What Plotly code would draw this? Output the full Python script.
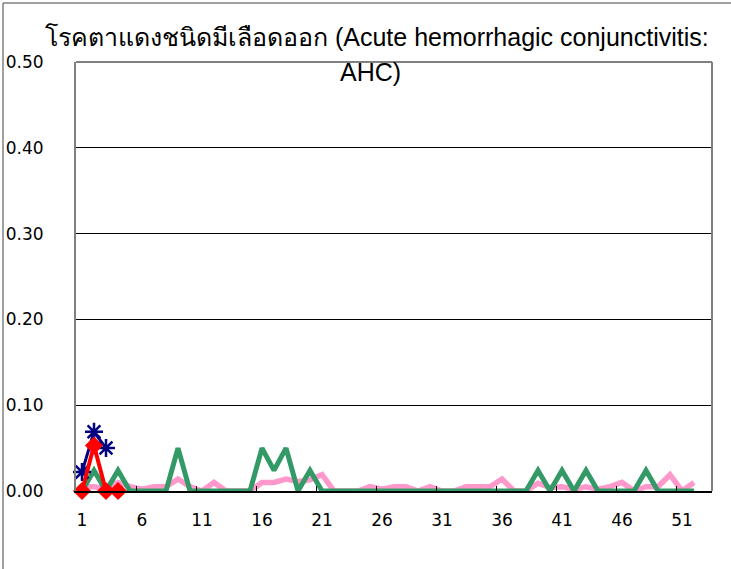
import plotly.graph_objects as go

weeks = list(range(1, 53))

# Series
blue_weeks = [1, 2, 3]
blue_vals = [0.022, 0.069, 0.050]

red_weeks = [1, 2, 3, 4]
red_vals = [0.0, 0.053, 0.0, 0.0]

pink_vals = [0.005, 0.005, 0.003, 0.010, 0.005, 0.002, 0.005, 0.005, 0.014, 0.005,
             0.000, 0.010, 0.000, 0.000, 0.000, 0.010, 0.010, 0.014, 0.011, 0.013,
             0.019, 0.000, 0.000, 0.000, 0.005, 0.002, 0.005, 0.005, 0.000, 0.005,
             0.000, 0.000, 0.005, 0.005, 0.005, 0.014, 0.000, 0.000, 0.009, 0.004,
             0.005, 0.002, 0.005, 0.002, 0.005, 0.010, 0.000, 0.005, 0.005, 0.019,
             0.000, 0.010]

green_vals = [0.000, 0.024, 0.000, 0.024, 0.000, 0.000, 0.000, 0.000, 0.050, 0.000,
              0.000, 0.000, 0.000, 0.000, 0.000, 0.050, 0.024, 0.050, 0.000, 0.024,
              0.000, 0.000, 0.000, 0.000, 0.000, 0.000, 0.000, 0.000, 0.000, 0.000,
              0.000, 0.000, 0.000, 0.000, 0.000, 0.000, 0.000, 0.000, 0.024, 0.000,
              0.024, 0.000, 0.024, 0.000, 0.000, 0.000, 0.000, 0.024, 0.000, 0.000,
              0.000, 0.000]

x_tick_vals = [1, 6, 11, 16, 21, 26, 31, 36, 41, 46, 51]
x_tick_text = [str(v) for v in x_tick_vals]
x_minor_vals = [5.5, 10.5, 15.5, 20.5, 25.5, 30.5, 35.5, 40.5, 45.5, 50.5]
y_tick_vals = [0.0, 0.1, 0.2, 0.3, 0.4, 0.5]
y_tick_text = ["0.00", "0.10", "0.20", "0.30", "0.40", "0.50"]

title_line1 = "โรคตาแดงชนิดมีเลือดออก (Acute hemorrhagic conjunctivitis:"
title_line2 = "AHC)"

W, H = 731, 569
L, R, T, B = 76, 712, 62, 491

def px_x(p):
    return (p - L) / (R - L)

def px_y(p):
    return (B - p) / (B - T)

fig = go.Figure()
fig.add_trace(go.Scatter(x=weeks, y=pink_vals, mode="lines",
                         line=dict(color="#FF99CC", width=5.5), showlegend=False))
fig.add_trace(go.Scatter(x=weeks, y=green_vals, mode="lines",
                         line=dict(color="#339966", width=5), showlegend=False))
fig.add_trace(go.Scatter(x=blue_weeks, y=blue_vals, mode="lines+markers",
                         line=dict(color="#000080", width=3), cliponaxis=False,
                         marker=dict(symbol="asterisk-open", size=15,
                                     line=dict(color="#000080", width=2.5)),
                         showlegend=False))
fig.add_trace(go.Scatter(x=red_weeks, y=red_vals, mode="lines+markers",
                         line=dict(color="#FF0000", width=4), cliponaxis=False,
                         marker=dict(symbol="diamond", size=14, color="#FF0000",
                                     line=dict(width=0)),
                         showlegend=False))

font_ticks = "'DejaVu Sans', sans-serif"

fig.update_layout(
    width=W, height=H,
    margin=dict(l=L, r=W - R, t=T, b=H - B, pad=0),
    paper_bgcolor="white", plot_bgcolor="white",
    xaxis=dict(range=[0.5, 53.5], tickmode="array", tickvals=x_tick_vals,
               ticktext=x_tick_text, ticks="", showgrid=False, zeroline=False,
               showline=True, linecolor="black", linewidth=1.5, automargin=False,
               ticklabelstandoff=13,
               tickfont=dict(family=font_ticks, size=17, color="black"),
               minor=dict(tickmode="array", tickvals=x_minor_vals, ticks="inside",
                          ticklen=5, tickcolor="black", tickwidth=1, showgrid=False)),
    yaxis=dict(range=[0, 0.5], tickmode="array", tickvals=y_tick_vals,
               ticktext=y_tick_text, ticks="", showgrid=True, gridcolor="black",
               gridwidth=1, zeroline=False, showline=True, linecolor="#808080",
               linewidth=2, ticklabelstandoff=27, automargin=False,
               tickfont=dict(family=font_ticks, size=17, color="black")),
    shapes=[
        dict(type="line", xref="paper", yref="paper", x0=0, x1=1, y0=1, y1=1,
             line=dict(color="#808080", width=2), layer="above"),
        dict(type="line", xref="paper", yref="paper", x0=1, x1=1, y0=0, y1=1,
             line=dict(color="#808080", width=2), layer="above"),
        dict(type="line", xref="paper", yref="paper", x0=px_x(3), x1=px_x(3),
             y0=px_y(3), y1=px_y(569), line=dict(color="#808080", width=1.5)),
        dict(type="line", xref="paper", yref="paper", x0=px_x(3), x1=px_x(731),
             y0=px_y(3), y1=px_y(3), line=dict(color="#808080", width=1.5)),
    ],
    annotations=[
        dict(text=title_line1, xref="paper", yref="paper", x=px_x(377), y=px_y(37),
             xanchor="center", yanchor="middle", showarrow=False,
             font=dict(family="'Liberation Sans', Arial, sans-serif", size=25, color="black")),
        dict(text=title_line2, xref="paper", yref="paper", x=px_x(370), y=px_y(72),
             xanchor="center", yanchor="middle", showarrow=False,
             font=dict(family="'Liberation Sans', Arial, sans-serif", size=25, color="black")),
    ],
)

fig.write_html("out.html", config={"displayModeBar": False},
               post_script="document.body.style.margin='0';document.body.style.padding='0';")
